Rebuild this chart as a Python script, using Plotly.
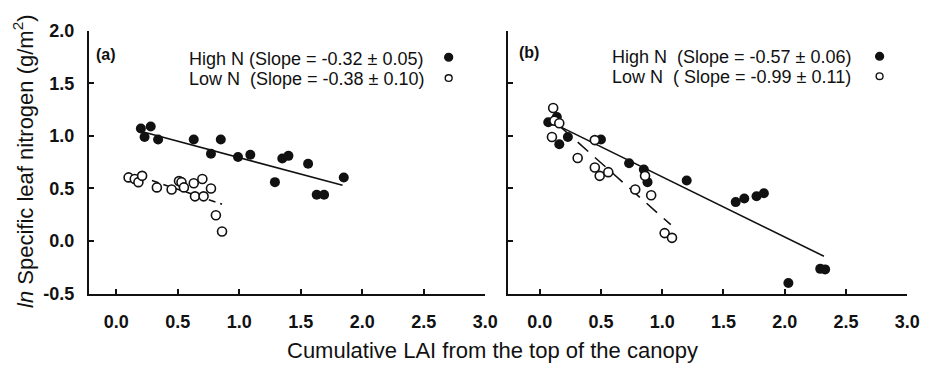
import plotly.graph_objects as go

# ---- data ----
a_high_x = [0.20, 0.28, 0.23, 0.34, 0.63, 0.85, 0.77, 0.99, 1.09, 1.29, 1.35, 1.40, 1.56, 1.63, 1.69, 1.85]
a_high_y = [1.07, 1.09, 0.99, 0.965, 0.965, 0.965, 0.83, 0.80, 0.82, 0.56, 0.785, 0.81, 0.735, 0.44, 0.44, 0.605]
a_low_x = [0.10, 0.15, 0.18, 0.21, 0.33, 0.45, 0.51, 0.53, 0.55, 0.63, 0.64, 0.70, 0.71, 0.77, 0.81, 0.86]
a_low_y = [0.605, 0.59, 0.56, 0.62, 0.51, 0.49, 0.57, 0.56, 0.51, 0.55, 0.425, 0.59, 0.425, 0.50, 0.245, 0.09]
a_high_fit_x = [0.19, 1.84]
a_high_fit_y = [1.046, 0.53]
a_low_fit_x = [0.29, 0.86]
a_low_fit_y = [0.575, 0.35]

b_high_x = [0.07, 0.14, 0.16, 0.23, 0.50, 0.73, 0.85, 0.88, 1.20, 1.60, 1.67, 1.77, 1.83, 2.03, 2.29, 2.33]
b_high_y = [1.13, 1.18, 0.92, 0.99, 0.965, 0.74, 0.68, 0.56, 0.575, 0.37, 0.405, 0.425, 0.455, -0.40, -0.265, -0.27]
b_low_x = [0.11, 0.12, 0.16, 0.10, 0.31, 0.45, 0.45, 0.49, 0.56, 0.78, 0.86, 0.91, 1.02, 1.08]
b_low_y = [1.265, 1.145, 1.12, 0.99, 0.79, 0.96, 0.70, 0.62, 0.655, 0.49, 0.62, 0.435, 0.075, 0.03]
b_high_fit_x = [0.145, 2.32]
b_high_fit_y = [1.10, -0.145]
b_low_fit_x = [0.17, 1.07]
b_low_fit_y = [1.085, 0.155]

tick_vals_x = [0.0, 0.5, 1.0, 1.5, 2.0, 2.5, 3.0]
tick_text_x = ["0.0", "0.5", "1.0", "1.5", "2.0", "2.5", "3.0"]
tick_vals_y = [-0.5, 0.0, 0.5, 1.0, 1.5, 2.0]
tick_text_y = ["-0.5", "0.0", "0.5", "1.0", "1.5", "2.0"]

legend_a = ["High N (Slope = -0.32 \u00b1 0.05)", "Low N  (Slope = -0.38 \u00b1 0.10)"]
legend_b = ["High N  (Slope = -0.57 \u00b1 0.06)", "Low N  ( Slope = -0.99 \u00b1 0.11)"]

W, H = 935, 365
FONT = "Liberation Sans, Arial, sans-serif"
INK = "#111111"

fig = go.Figure()

def add_panel(xa, ya, hx, hy, lx, ly, hfx, hfy, lfx, lfy, dash):
    fig.add_trace(go.Scatter(x=hfx, y=hfy, mode="lines", xaxis=xa, yaxis=ya,
                             line=dict(color=INK, width=1.6), hoverinfo="skip", showlegend=False))
    fig.add_trace(go.Scatter(x=lfx, y=lfy, mode="lines", xaxis=xa, yaxis=ya,
                             line=dict(color=INK, width=1.6, dash=dash), hoverinfo="skip", showlegend=False))
    fig.add_trace(go.Scatter(x=hx, y=hy, mode="markers", xaxis=xa, yaxis=ya,
                             marker=dict(symbol="circle", size=10, color=INK, line=dict(width=0)),
                             showlegend=False))
    fig.add_trace(go.Scatter(x=lx, y=ly, mode="markers", xaxis=xa, yaxis=ya,
                             marker=dict(symbol="circle", size=9, color="white", line=dict(color=INK, width=1.6)),
                             showlegend=False))

add_panel("x", "y", a_high_x, a_high_y, a_low_x, a_low_y,
          a_high_fit_x, a_high_fit_y, a_low_fit_x, a_low_fit_y, "7px,5px")
add_panel("x2", "y2", b_high_x, b_high_y, b_low_x, b_low_y,
          b_high_fit_x, b_high_fit_y, b_low_fit_x, b_low_fit_y, "14px,9px")

ydom = [1 - 300 / H, 1 - 22 / H]
axis_common = dict(showgrid=False, zeroline=False, showline=True, linecolor=INK, linewidth=1.8,
                   ticks="inside", ticklen=5, tickwidth=1.5, tickcolor=INK,
                   tickfont=dict(family=FONT, size=18, color=INK, weight="bold"))

fig.update_layout(
    width=W, height=H,
    margin=dict(l=0, r=0, t=0, b=0),
    paper_bgcolor="white", plot_bgcolor="white",
    xaxis=dict(domain=[90 / W, 492 / W], range=[-0.224, 3.0], anchor="y",
               tickvals=tick_vals_x, ticktext=tick_text_x, ticklabelstandoff=11, **axis_common),
    yaxis=dict(domain=ydom, range=[-0.5, 2.0], anchor="x",
               tickvals=tick_vals_y, ticktext=tick_text_y, ticklabelstandoff=9, **axis_common),
    xaxis2=dict(domain=[515 / W, 920 / W], range=[-0.26, 3.0], anchor="y2",
                tickvals=tick_vals_x, ticktext=tick_text_x, ticklabelstandoff=11, **axis_common),
    yaxis2=dict(domain=ydom, range=[-0.5, 2.0], anchor="x2",
                tickvals=tick_vals_y, showticklabels=False, **axis_common),
)

ann = []
def txt(x, y, s, size=18, anchor="left", angle=0, weight="normal", yanchor="middle"):
    ann.append(dict(x=x / W, y=1 - y / H, xref="paper", yref="paper", text=s, showarrow=False,
                    xanchor=anchor, yanchor=yanchor, textangle=angle, borderpad=0,
                    font=dict(family=FONT, size=size, color=INK, weight=weight)))

txt(96, 47, "(a)", 16, weight="bold")
txt(525, 45, "(b)", 16, weight="bold")
txt(191, 52, legend_a[0])
txt(191, 73, legend_a[1])
txt(620, 50, legend_b[0])
txt(620, 71, legend_b[1])
txt(499, 346, "Cumulative LAI from the top of the canopy", 22, "center", yanchor="top")
txt(24, 160, "<i>ln</i> Specific leaf nitrogen (g/m<sup>2</sup>)", 22, "center", -90)
fig.update_layout(annotations=ann)

shapes = []
def dot(x, y, filled):
    r = 4 if filled else 3.5
    shapes.append(dict(type="circle", xref="paper", yref="paper",
                       x0=(x - r) / W, x1=(x + r) / W, y0=1 - (y + r) / H, y1=1 - (y - r) / H,
                       fillcolor=INK if filled else "white", line=dict(color=INK, width=1.4)))
dot(455, 50, True)
dot(455, 72, False)
dot(892, 49, True)
dot(892, 70, False)
fig.update_layout(shapes=shapes)

fig.write_html("out.html")
